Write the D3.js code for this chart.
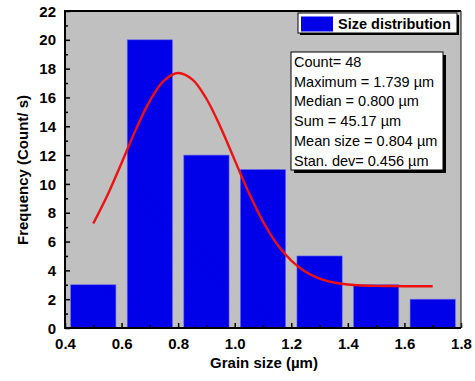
<!DOCTYPE html>
<html>
<head>
<meta charset="utf-8">
<script src="https://cdn.jsdelivr.net/npm/d3@7"></script>
<style>
  html, body { margin: 0; padding: 0; background: #fff; }
  svg { display: block; }
  text { font-family: Arial, "Liberation Sans", sans-serif; }
</style>
</head>
<body>
<svg id="chart" width="475" height="381"></svg>
<script>
// Histogram bins (bin centres, µm) and counts
const binCenters = [0.5, 0.7, 0.9, 1.1, 1.3, 1.5, 1.7];
const counts = [3, 20, 12, 11, 5, 3, 2];

// Fitted distribution curve (x in µm, frequency)
const fitX = [0.50, 0.55, 0.60, 0.65, 0.70, 0.75, 0.80, 0.85, 0.90, 0.95, 1.00, 1.05,
              1.10, 1.15, 1.20, 1.25, 1.30, 1.35, 1.40, 1.45, 1.50, 1.55, 1.60, 1.65, 1.70];
const fitY = [7.25, 9.21, 11.45, 13.75, 15.77, 17.17, 17.70, 17.25, 15.91, 13.93, 11.65, 9.38,
              7.39, 5.81, 4.67, 3.90, 3.43, 3.16, 3.02, 2.95, 2.92, 2.91, 2.90, 2.90, 2.90];

// Axis ticks
const xTicks = [0.4, 0.6, 0.8, 1.0, 1.2, 1.4, 1.6, 1.8];
const yTicks = [0, 2, 4, 6, 8, 10, 12, 14, 16, 18, 20, 22];

// Summary statistics box
const statsLines = [
  "Count= 48",
  "Maximum = 1.739 \u00B5m",
  "Median = 0.800 \u00B5m",
  "Sum = 45.17 \u00B5m",
  "Mean size = 0.804 \u00B5m",
  "Stan. dev= 0.456 \u00B5m"
];
const legendLabel = "Size distribution";
const binWidth = 0.16;

const svg = d3.select("#chart");
const margin = { top: 11, right: 14, bottom: 53, left: 65 };
const W = 475, H = 381;
const iw = W - margin.left - margin.right;
const ih = H - margin.top - margin.bottom;

const x = d3.scaleLinear().domain([0.4, 1.8]).range([0, iw]);
const y = d3.scaleLinear().domain([0, 22]).range([ih, 0]);

// Hatched blue fill for the bars
const defs = svg.append("defs");
const pat = defs.append("pattern")
  .attr("id", "hatch")
  .attr("patternUnits", "userSpaceOnUse")
  .attr("width", 3).attr("height", 3)
  .attr("patternTransform", "rotate(-45)");
pat.append("rect").attr("width", 3).attr("height", 3).attr("fill", "#0000ee");
pat.append("line").attr("x1", 0).attr("y1", 0).attr("x2", 0).attr("y2", 3)
  .attr("stroke", "#0000c0").attr("stroke-width", 0.7);

const g = svg.append("g").attr("transform", `translate(${margin.left},${margin.top})`);

// Plot background
g.append("rect").attr("width", iw).attr("height", ih).attr("fill", "#c0c0c0");

// Bars
g.selectAll("rect.bar")
  .data(binCenters.map((c, i) => ({ c, v: counts[i] })))
  .join("rect")
  .attr("class", "bar")
  .attr("x", d => x(d.c - binWidth / 2))
  .attr("width", d => x(d.c + binWidth / 2) - x(d.c - binWidth / 2))
  .attr("y", d => y(d.v))
  .attr("height", d => y(0) - y(d.v))
  .attr("fill", "url(#hatch)")
  .attr("stroke", "#6a6af0")
  .attr("stroke-width", 0.6);

// Fit curve
const line = d3.line()
  .x(d => x(d[0]))
  .y(d => y(d[1]))
  .curve(d3.curveCatmullRom);
g.append("path")
  .datum(fitX.map((v, i) => [v, fitY[i]]))
  .attr("d", line)
  .attr("fill", "none")
  .attr("stroke", "#ee1111")
  .attr("stroke-width", 2.4);

// Axes with inward ticks
const xAxis = d3.axisBottom(x).tickValues(xTicks).tickFormat(d3.format(".1f"))
  .tickSize(-5).tickPadding(10);
const xMinor = d3.axisBottom(x).tickValues(d3.range(0.5, 1.8, 0.2)).tickFormat("").tickSize(-3);
const yAxis = d3.axisLeft(y).tickValues(yTicks).tickFormat(d3.format("d"))
  .tickSize(-5).tickPadding(9);
const yMinor = d3.axisLeft(y).tickValues(d3.range(1, 22, 2)).tickFormat("").tickSize(-3);

const gx = g.append("g").attr("transform", `translate(0,${ih})`).call(xAxis);
g.append("g").attr("transform", `translate(0,${ih})`).call(xMinor);
const gy = g.append("g").call(yAxis);
g.append("g").call(yMinor);

g.selectAll(".domain").remove();
g.selectAll(".tick line").attr("stroke", "#000").attr("stroke-width", 1.5);
gx.selectAll("text").attr("font-size", 15).attr("font-weight", "bold").attr("fill", "#000");
gy.selectAll("text").attr("font-size", 15).attr("font-weight", "bold").attr("fill", "#000")
  .attr("dy", "0.34em");

// Frame
g.append("line").attr("x1", 0).attr("x2", iw).attr("y1", 0).attr("y2", 0)
  .attr("stroke", "#000").attr("stroke-width", 2);
g.append("line").attr("x1", iw).attr("x2", iw).attr("y1", 0).attr("y2", ih)
  .attr("stroke", "#333").attr("stroke-width", 1.2);
g.append("line").attr("x1", 0).attr("x2", 0).attr("y1", -1).attr("y2", ih + 1)
  .attr("stroke", "#000").attr("stroke-width", 2);
g.append("line").attr("x1", 0).attr("x2", iw).attr("y1", ih).attr("y2", ih)
  .attr("stroke", "#000").attr("stroke-width", 2);

// Axis titles
svg.append("text")
  .attr("x", 264).attr("y", 368)
  .attr("text-anchor", "middle")
  .attr("font-size", 15).attr("font-weight", "bold")
  .text("Grain size (\u00B5m)");
svg.append("text")
  .attr("transform", "translate(28,170) rotate(-90)")
  .attr("text-anchor", "middle")
  .attr("font-size", 15).attr("font-weight", "bold")
  .text("Frequency (Count/ s)");

// Legend box with shadow
const lg = svg.append("g");
lg.append("rect").attr("x", 300).attr("y", 15).attr("width", 159).attr("height", 20).attr("fill", "#000");
lg.append("rect").attr("x", 298).attr("y", 13).attr("width", 159).attr("height", 20)
  .attr("fill", "#fff").attr("stroke", "#000").attr("stroke-width", 1);
lg.append("rect").attr("x", 301).attr("y", 16.5).attr("width", 32).attr("height", 15)
  .attr("fill", "url(#hatch)");
lg.append("text").attr("x", 338).attr("y", 28.5)
  .attr("font-size", 14.5).attr("font-weight", "bold")
  .text(legendLabel);

// Statistics box with shadow
const sg = svg.append("g");
sg.append("rect").attr("x", 294).attr("y", 55).attr("width", 152).attr("height", 118).attr("fill", "#000");
sg.append("rect").attr("x", 291).attr("y", 52).attr("width", 152).attr("height", 118)
  .attr("fill", "#fff").attr("stroke", "#000").attr("stroke-width", 1);
sg.selectAll("text.stat")
  .data(statsLines)
  .join("text")
  .attr("class", "stat")
  .attr("x", 294)
  .attr("y", (d, i) => 67 + i * 19.7)
  .attr("font-size", 14.5)
  .text(d => d);
</script>
</body>
</html>
